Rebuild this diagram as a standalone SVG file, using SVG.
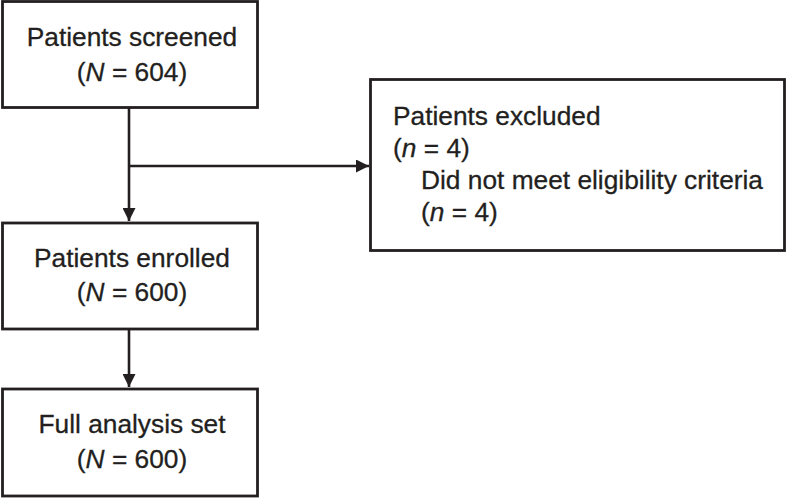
<svg xmlns="http://www.w3.org/2000/svg" width="787" height="498" viewBox="0 0 787 498">
<style>
.box{fill:#fff;stroke:#231f20;stroke-width:2.8}
.t{font-family:"Liberation Sans",Arial,sans-serif;font-size:26.3px;fill:#231f20;stroke:#231f20;stroke-width:0.3}
.c{text-anchor:middle}
.ln{stroke:#231f20;stroke-width:2.6;fill:none}
</style>
<defs>
<marker id="ah" viewBox="0 0 10 10" refX="10" refY="5" markerWidth="14" markerHeight="13" markerUnits="userSpaceOnUse" orient="auto">
<path d="M0,0 L10,5 L0,10 Z" fill="#231f20"/>
</marker>
</defs>
<rect width="787" height="498" fill="#fff"/>
<g id="connectors">
<line class="ln" x1="129" y1="108" x2="129" y2="221" marker-end="url(#ah)"/>
<line class="ln" x1="129" y1="166" x2="369" y2="166" marker-end="url(#ah)"/>
<line class="ln" x1="129" y1="330" x2="129" y2="387" marker-end="url(#ah)"/>
</g>
<g id="screened">
<rect class="box" x="2.5" y="1.5" width="255" height="106"/>
<text class="t c" x="132" y="46">Patients screened</text>
<text class="t c" x="132" y="81">(<tspan font-style="italic">N</tspan> = 604)</text>
</g>
<g id="excluded">
<rect class="box" x="370.5" y="79.5" width="414" height="171"/>
<text class="t" x="393" y="125">Patients excluded</text>
<text class="t" x="393" y="157">(<tspan font-style="italic">n</tspan> = 4)</text>
<text class="t" x="421" y="189">Did not meet eligibility criteria</text>
<text class="t" x="421" y="221">(<tspan font-style="italic">n</tspan> = 4)</text>
</g>
<g id="enrolled">
<rect class="box" x="2.5" y="223" width="255" height="106"/>
<text class="t c" x="132" y="267">Patients enrolled</text>
<text class="t c" x="132" y="301">(<tspan font-style="italic">N</tspan> = 600)</text>
</g>
<g id="fas">
<rect class="box" x="2.5" y="389" width="255" height="107"/>
<text class="t c" x="132" y="433">Full analysis set</text>
<text class="t c" x="132" y="468">(<tspan font-style="italic">N</tspan> = 600)</text>
</g>
</svg>
